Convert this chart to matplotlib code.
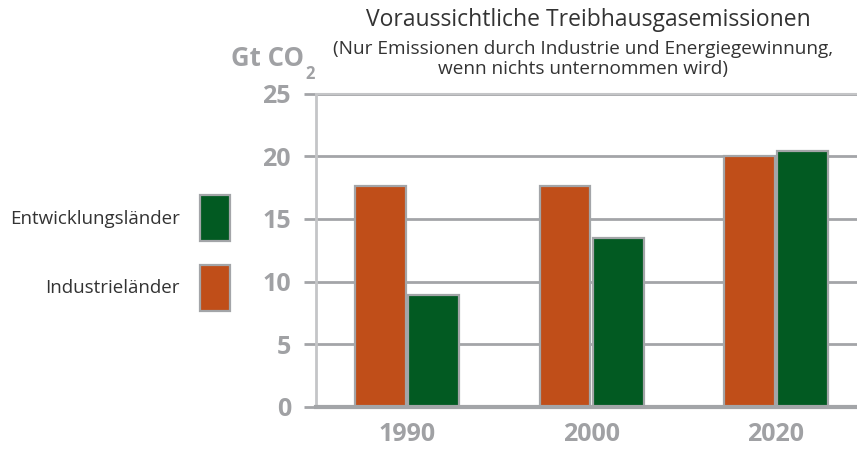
import numpy as np
import matplotlib
matplotlib.use("Agg")
import matplotlib.pyplot as plt

years = ["1990", "2000", "2020"]
industrie = [17.6, 17.6, 20.0]
entwicklung = [8.9, 13.5, 20.4]
y_ticks = [0, 5, 10, 15, 20, 25]

ORANGE = "#C04E19"
GREEN = "#025A22"
EDGE = "#A3A5A8"
GREY = "#A0A1A4"
TEXT = "#333333"

plt.rcParams["font.family"] = ["Open Sans", "DejaVu Sans"]

fig = plt.figure(figsize=(8.57, 4.49), dpi=100)
ax = fig.add_axes([316 / 857, 1 - 407 / 449, 1 - 316 / 857, (407 - 93.5) / 449])

x = np.arange(len(years))
w = 0.276
off = w / 2 + 0.006
b_ind = ax.bar(x - off, industrie, w, color=ORANGE, edgecolor=EDGE, linewidth=1.6,
               label="Industrieländer", zorder=3)
b_ent = ax.bar(x + off, entwicklung, w, color=GREEN, edgecolor=EDGE, linewidth=1.6,
               label="Entwicklungsländer", zorder=3)

ax.set_xlim(-0.495, 2.44)
ax.set_ylim(0, 25)
ax.set_yticks(y_ticks)
ax.set_yticklabels([str(t) for t in y_ticks])
ax.set_xticks(x)
ax.set_xticklabels(years)

ax.yaxis.grid(True, color=EDGE, linewidth=2, zorder=0)
ax.set_axisbelow(True)

ax.tick_params(axis="y", length=9, width=2, color=EDGE, pad=9,
               labelsize=18, labelcolor=GREY)
ax.tick_params(axis="x", length=0, pad=11, labelsize=18, labelcolor=GREY)
for lab in ax.get_xticklabels() + ax.get_yticklabels():
    lab.set_fontweight("bold")

ax.spines["right"].set_visible(False)
ax.spines["bottom"].set_color(EDGE)
ax.spines["bottom"].set_linewidth(3)
ax.spines["bottom"].set_zorder(4)
ax.spines["left"].set_color("#C4C5C7")
ax.spines["left"].set_linewidth(2)
ax.spines["top"].set_color("#C4C5C7")
ax.spines["top"].set_linewidth(1.5)

fig.text(588 / 857, 1 - 20 / 449, "Voraussichtliche Treibhausgasemissionen",
         ha="center", va="center", fontsize=16.5, color=TEXT)
fig.text(583 / 857, 1 - 59 / 449,
         "(Nur Emissionen durch Industrie und Energiegewinnung,\nwenn nichts unternommen wird)",
         ha="center", va="center", fontsize=13.7, color=TEXT, linespacing=1.2)
fig.text(231 / 857, 1 - 66 / 449, "Gt CO", ha="left", va="baseline",
         fontsize=18.5, fontweight="bold", color=GREY)
fig.text(305 / 857, 1 - 79 / 449, "2", ha="left", va="baseline",
         fontsize=12, fontweight="bold", color=GREY)

fig.legend([b_ent, b_ind], ["Entwicklungsländer", "Industrieländer"],
           loc="upper right", bbox_to_anchor=(239 / 857, 1 - 186 / 449),
           frameon=False, markerfirst=False, fontsize=13.5, labelcolor=TEXT,
           borderpad=0, handlelength=1.6, handleheight=3.37,
           labelspacing=1.28, handletextpad=1.05)

fig.savefig("out.png", dpi=100)
